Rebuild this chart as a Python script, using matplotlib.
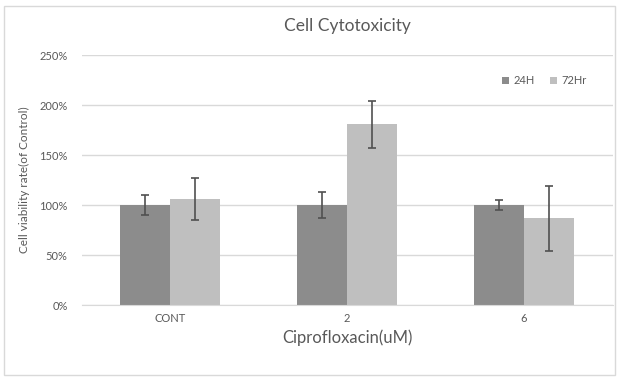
import matplotlib
matplotlib.use('Agg')

import numpy as np
import matplotlib.pyplot as plt
from matplotlib.patches import Rectangle
from matplotlib.ticker import FuncFormatter

categories = ['CONT', '2', '6']
series_names = ['24H', '72Hr']
viability_24h = [100, 100, 100]
err_24h = [10, 13, 5]
viability_72h = [106, 181, 87]
err_72h = [21, 23.5, 32.5]
y_ticks = [0, 50, 100, 150, 200, 250]

colors = ['#8c8c8c', '#bfbfbf']
text_color = '#595959'

plt.rcParams['font.family'] = ['Lato', 'DejaVu Sans']

fig = plt.figure(figsize=(6.24, 3.81), dpi=100)
fig.patch.set_facecolor('white')
fig.patches.append(Rectangle((4 / 624, 6 / 381), 611 / 624, 369 / 381,
                             transform=fig.transFigure, fill=False,
                             edgecolor='#d9d9d9', linewidth=1))

ax = fig.add_axes([81.5 / 624, (381 - 305) / 381, 531 / 624, 250 / 381])

x = np.arange(len(categories))
width = 0.283
err_kw = dict(ecolor='#505050', elinewidth=1.2, capsize=3, capthick=1.2)
ax.bar(x - width / 2, viability_24h, width, yerr=err_24h, color=colors[0],
       label=series_names[0], error_kw=err_kw, zorder=2)
ax.bar(x + width / 2, viability_72h, width, yerr=err_72h, color=colors[1],
       label=series_names[1], error_kw=err_kw, zorder=2)

ax.set_xlim(-0.5, len(categories) - 0.5)
ax.set_ylim(0, 250)
ax.set_yticks(y_ticks)
ax.yaxis.set_major_formatter(FuncFormatter(lambda v, p: f'{int(v)}%'))
ax.set_xticks(x)
ax.set_xticklabels(categories)
ax.tick_params(axis='both', length=0, labelsize=8, colors=text_color, pad=6)
ax.tick_params(axis='y', pad=10)

ax.grid(axis='y', color='#d9d9d9', linewidth=1, zorder=0)
ax.set_axisbelow(True)
for side in ['top', 'right', 'left']:
    ax.spines[side].set_visible(False)
ax.spines['bottom'].set_color('#d9d9d9')

ax.set_title('Cell Cytotoxicity', fontsize=12.5, color=text_color, pad=17)
ax.set_xlabel('Ciprofloxacin(uM)', fontsize=12, color=text_color, labelpad=4)
ax.set_ylabel('Cell viability rate(of Control)', fontsize=8.5, color=text_color, labelpad=7)

ax.legend(loc='upper right', bbox_to_anchor=(0.97, 0.96), ncol=2, frameon=False,
          fontsize=8, labelcolor=text_color, handlelength=0.6, handleheight=0.6,
          columnspacing=1.4, handletextpad=0.4)

fig.savefig('out.png', dpi=100, facecolor='white')
